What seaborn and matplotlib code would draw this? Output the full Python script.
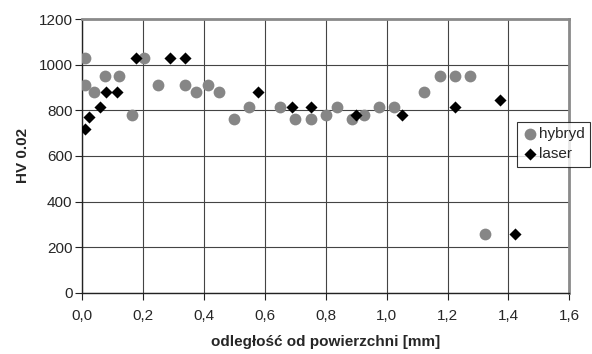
import matplotlib
matplotlib.use("Agg")
import matplotlib.pyplot as plt
import seaborn as sns
import pandas as pd

hybryd_x = [0.01, 0.01, 0.037, 0.075, 0.12, 0.162, 0.202, 0.249, 0.338, 0.375, 0.414, 0.45,
            0.50, 0.549, 0.649, 0.70, 0.75, 0.80, 0.836, 0.886, 0.927, 0.974, 1.025,
            1.124, 1.174, 1.223, 1.274, 1.324]
hybryd_y = [1030, 910, 880, 950, 950, 780, 1030, 910, 910, 880, 910, 880,
            760, 815, 815, 760, 760, 780, 815, 760, 780, 815, 815,
            880, 950, 950, 950, 257]
laser_x = [0.009, 0.022, 0.057, 0.077, 0.113, 0.176, 0.288, 0.338, 0.576, 0.688, 0.75,
           0.90, 1.05, 1.223, 1.373, 1.42]
laser_y = [720, 770, 815, 880, 880, 1030, 1030, 1030, 880, 815, 815,
           780, 780, 815, 845, 257]

x_ticks = [0.0, 0.2, 0.4, 0.6, 0.8, 1.0, 1.2, 1.4, 1.6]
x_tick_labels = ["0,0", "0,2", "0,4", "0,6", "0,8", "1,0", "1,2", "1,4", "1,6"]
y_ticks = [0, 200, 400, 600, 800, 1000, 1200]
x_label = "odległość od powierzchni [mm]"
y_label = "HV 0.02"

hyb = pd.DataFrame({"x": hybryd_x, "y": hybryd_y})
las = pd.DataFrame({"x": laser_x, "y": laser_y})

sns.set_style("white")
plt.rcParams["font.family"] = ["Liberation Sans", "DejaVu Sans"]

fig = plt.figure(figsize=(5.92, 3.54), dpi=100)
ax = fig.add_axes([0.139, 0.173, 0.8227, 0.773])

sns.scatterplot(data=hyb, x="x", y="y", color="#868686", marker="o", s=72,
                linewidth=0, ax=ax, zorder=3, label="hybryd")
sns.scatterplot(data=las, x="x", y="y", color="#000000", marker="D", s=38,
                linewidth=0, ax=ax, zorder=4, label="laser")

ax.set_xlim(0, 1.6)
ax.set_ylim(0, 1200)
ax.set_xticks(x_ticks)
ax.set_xticklabels(x_tick_labels)
ax.set_yticks(y_ticks)
ax.grid(True, color="#444444", linewidth=0.8)
ax.set_axisbelow(True)

for side in ["left", "bottom"]:
    ax.spines[side].set_color("#222222")
    ax.spines[side].set_linewidth(1.0)
for side in ["top", "right"]:
    ax.spines[side].set_color("#8a8a8a")
    ax.spines[side].set_linewidth(2.0)

ax.tick_params(axis="both", which="both", direction="out", length=5, width=0.8,
               color="#222222", labelsize=11, bottom=True, left=True)
ax.tick_params(axis="y", pad=2)
ax.tick_params(axis="x", pad=7)

ax.set_xlabel(x_label, fontsize=11, fontweight="bold", labelpad=8)
ax.set_ylabel(y_label, fontsize=11, fontweight="bold", labelpad=6)

leg = ax.legend(loc="upper left", bbox_to_anchor=(0.893, 0.624), borderaxespad=0,
                frameon=True, fancybox=False, fontsize=11, handletextpad=0.1,
                handlelength=1.0, borderpad=0.35, labelspacing=0.4)
leg.get_frame().set_edgecolor("#000000")
leg.get_frame().set_linewidth(0.8)
leg.set_zorder(10)

fig.savefig("out.png", dpi=100)
